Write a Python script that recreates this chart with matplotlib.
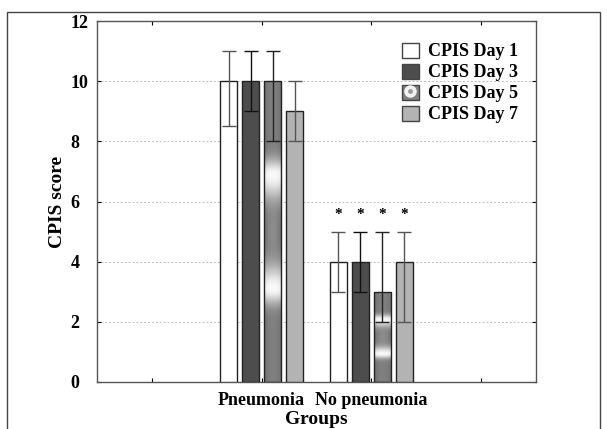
"""grouped bar chart of CPIS score by group and day"""

import numpy as np
import matplotlib
matplotlib.use("Agg")
import matplotlib.pyplot as plt
from matplotlib.patches import Patch, Rectangle
from matplotlib.lines import Line2D
from matplotlib.legend_handler import HandlerTuple

groups = ["Pneumonia", "No pneumonia"]
days = ["CPIS Day 1", "CPIS Day 3", "CPIS Day 5", "CPIS Day 7"]
medians = {
    "CPIS Day 1": [10, 4],
    "CPIS Day 3": [10, 4],
    "CPIS Day 5": [10, 3],
    "CPIS Day 7": [9, 4],
}
lower = {
    "CPIS Day 1": [8.5, 3],
    "CPIS Day 3": [9, 3],
    "CPIS Day 5": [8, 2],
    "CPIS Day 7": [8, 2],
}
upper = {
    "CPIS Day 1": [11, 5],
    "CPIS Day 3": [11, 5],
    "CPIS Day 5": [11, 5],
    "CPIS Day 7": [10, 5],
}
significant = [False, True]  # asterisk over the no-pneumonia group

colors = ["white", "#4d4d4d", None, "#b3b3b3"]
err_colors = ["#555555", "#111111", "#222222", "#555555"]

plt.rcParams["font.family"] = ["Liberation Serif", "DejaVu Serif"]
plt.rcParams["font.weight"] = "bold"
plt.rcParams["axes.labelweight"] = "bold"

fig = plt.figure(figsize=(6.07, 4.29), dpi=100)
ax = fig.add_axes([97 / 607, 1 - 382 / 429, 439 / 607, 361 / 429])

centers = np.array([2, 3])
offsets = [-0.3, -0.1, 0.1, 0.3]
width = 0.16


def gradient_fill(ax, bar):
    """fill a bar with the ring-like gray gradient"""
    x0, y0 = bar.get_x(), bar.get_y()
    w, h = bar.get_width(), bar.get_height()
    yy = np.linspace(-1, 1, 300)[:, None]
    xx = np.linspace(-1, 1, 30)[None, :]
    d = np.abs(yy)
    sig = np.where(d < 0.38, 0.16, 0.1)
    level = 0.5 + 0.48 * np.exp(-((d - 0.38) / sig) ** 2)
    level = level + 0.05 * np.exp(-(d / 0.12) ** 2) * np.exp(-(xx / 0.6) ** 2)
    level = np.clip(level - 0.06 * xx ** 2, 0, 1)
    im = ax.imshow(level, cmap="gray", vmin=0, vmax=1, aspect="auto",
                   extent=[x0, x0 + w, y0, y0 + h], origin="lower", zorder=2)
    im.set_clip_path(bar)


for i, day in enumerate(days):
    xs = centers + offsets[i]
    vals = np.array(medians[day])
    yerr = [vals - np.array(lower[day]), np.array(upper[day]) - vals]
    if colors[i] is None:
        bars = ax.bar(xs, vals, width, facecolor="none", edgecolor="#222222",
                      linewidth=1, zorder=3)
        for b in bars:
            gradient_fill(ax, b)
    else:
        ax.bar(xs, vals, width, color=colors[i], edgecolor="#222222",
               linewidth=1, zorder=3)
    ax.errorbar(xs, vals, yerr=yerr, fmt="none", ecolor=err_colors[i],
                elinewidth=1, capsize=5, capthick=1, zorder=4)
    for x, star in zip(xs, significant):
        if star:
            ax.text(x, 5.35, "*", ha="center", va="bottom", fontsize=11)

ax.set_xlim(0.5, 4.5)
ax.set_ylim(0, 12)
ax.set_xticks([1, 2, 3, 4])
ax.set_xticklabels(["", groups[0], groups[1], ""], fontsize=14)
ax.set_yticks(range(0, 13, 2))
ax.tick_params(axis="both", direction="in", top=True, right=True, length=3,
               labelsize=13)
ax.tick_params(axis="y", pad=19)
ax.tick_params(axis="x", pad=7)
for lab in ax.get_yticklabels():
    lab.set_horizontalalignment("left")
ax.yaxis.grid(True, linestyle=(0, (2, 2)), color="#bbbbbb", linewidth=0.7)
ax.set_axisbelow(True)
for s in ax.spines.values():
    s.set_color("#555555")
    s.set_linewidth(1)

ax.set_ylabel("CPIS score", fontsize=14, labelpad=3)
ax.set_xlabel("Groups", fontsize=14, labelpad=1.5)

handles = [
    Patch(facecolor="white", edgecolor="#444444"),
    Patch(facecolor="#4d4d4d", edgecolor="#444444"),
    (Patch(facecolor="#808080", edgecolor="#444444"),
     Line2D([], [], marker="o", linestyle="", markersize=9,
            markerfacecolor="#f2f2f2", markeredgecolor="none"),
     Line2D([], [], marker="o", linestyle="", markersize=3.5,
            markerfacecolor="#9a9a9a", markeredgecolor="none")),
    Patch(facecolor="#b3b3b3", edgecolor="#444444"),
]
ax.legend(handles, days, loc="upper right", bbox_to_anchor=(0.995, 0.985),
          frameon=False, fontsize=13, handlelength=0.9, handleheight=0.9,
          handletextpad=0.5, labelspacing=0.18,
          handler_map={tuple: HandlerTuple(ndivide=1, pad=0)})

fig.add_artist(Rectangle((7 / 607, -0.05), 593 / 607, 1.05 - 12 / 429,
                         transform=fig.transFigure, fill=False,
                         edgecolor="#444444", linewidth=1))

fig.savefig("out.png", dpi=100)
